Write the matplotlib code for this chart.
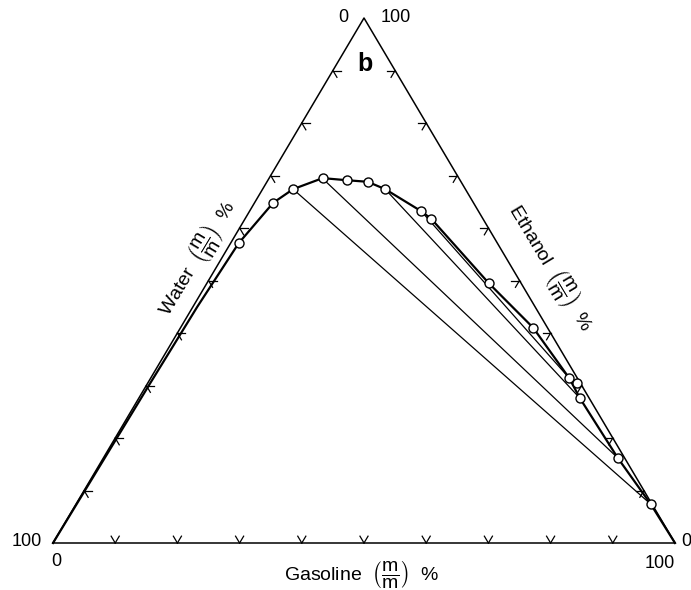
import numpy as np
import matplotlib.pyplot as plt

# =========================
# DATA (mass %, gasoline / ethanol; water = rest)
# =========================
# binodal curve, water corner -> gasoline corner
curve_gas = [0.0, 0.2, 0.4, 0.7, 1.3, 3.0, 4.9, 8.6, 12.7, 16.2, 19.7, 27.6, 30.0,
             45.3, 56.7, 67.3, 70.9, 82.7, 92.4, 100.0]
curve_eth = [0.0, 15.0, 30.0, 45.0, 57.1, 64.8, 67.4, 69.5, 69.1, 68.8, 67.4, 63.2, 61.7,
             49.5, 41.0, 31.4, 27.6, 16.2, 7.4, 0.0]

# measured points (circles)
pts_gas = [1.3, 3.0, 4.9, 8.6, 12.7, 16.2, 19.7, 27.6, 30.0, 45.3, 56.7, 67.3, 69.0, 70.9, 82.7, 92.4]
pts_eth = [57.1, 64.8, 67.4, 69.5, 69.1, 68.8, 67.4, 63.2, 61.7, 49.5, 41.0, 31.4, 30.5, 27.6, 16.2, 7.4]

# tie lines: (gasoline, ethanol) of both ends
tie_gas_a = [4.9, 9.5, 19.7, 27.6]
tie_eth_a = [67.4, 68.8, 67.4, 63.2]
tie_gas_b = [92.4, 82.7, 70.9, 67.3]
tie_eth_b = [7.4, 16.2, 27.6, 31.4]

tick_vals = [10, 20, 30, 40, 50, 60, 70, 80, 90]


def tern(g, e):
    g = np.asarray(g, dtype=float)
    e = np.asarray(e, dtype=float)
    return g + e / 2.0, e


W, H = 691, 590
fig = plt.figure(figsize=(W / 100, H / 100), dpi=100)
plt.rcParams['font.family'] = ['Liberation Sans', 'DejaVu Sans']
plt.rcParams['mathtext.fontset'] = 'custom'
plt.rcParams['mathtext.rm'] = 'Liberation Sans'

# triangle: x 53..675 px, y 543..18 px
ax = fig.add_axes([53 / W, (H - 543) / H, 622 / W, 525 / H])
ax.set_xlim(0, 100)
ax.set_ylim(0, 100)
ax.axis("off")

# frame
fx, fy = tern([0, 100, 0, 0], [0, 0, 100, 0])
ax.plot(fx, fy, color="black", lw=1.1, clip_on=False)

# chevron ticks, arms pointing inside
L = 1.3
for t in tick_vals:
    # bottom (gasoline), e = 0
    g, e = t, 0
    for dg, de in [(0, L), (-L, L)]:
        x, y = tern([g, g + dg], [e, e + de])
        ax.plot(x, y, color="black", lw=0.9, clip_on=False)
    # left (water side), g = 0
    g, e = 0, t
    for dg, de in [(L, 0), (L, -L)]:
        x, y = tern([g, g + dg], [e, e + de])
        ax.plot(x, y, color="black", lw=0.9, clip_on=False)
    # right (ethanol side), water = 0
    g, e = 100 - t, t
    for dg, de in [(-L, 0), (0, -L)]:
        x, y = tern([g, g + dg], [e, e + de])
        ax.plot(x, y, color="black", lw=0.9, clip_on=False)

# tie lines
for ga, ea, gb, eb in zip(tie_gas_a, tie_eth_a, tie_gas_b, tie_eth_b):
    x, y = tern([ga, gb], [ea, eb])
    ax.plot(x, y, color="black", lw=0.9)

# binodal
cx, cy = tern(curve_gas, curve_eth)
ax.plot(cx, cy, color="black", lw=1.6, clip_on=False)

px, py = tern(pts_gas, pts_eth)
ax.plot(px, py, "o", ms=6.5, mfc="white", mec="black", mew=1.0, ls="none", clip_on=False, zorder=5)


def ftext(x, y, s, **kw):
    fig.text(x / W, 1 - y / H, s, ha="center", va="center", **kw)


fs = 14
frac = r"$\left(\dfrac{\mathrm{m}}{\mathrm{m}}\right)$"
ftext(343, 18, "0", fontsize=13)
ftext(396, 18, "100", fontsize=13)
ftext(27, 541, "100", fontsize=13)
ftext(56, 561, "0", fontsize=13)
ftext(686, 541, "0", fontsize=13)
ftext(660, 563, "100", fontsize=13)
ftext(365, 64, "b", fontsize=18, fontweight="bold")

ftext(362, 575, "Gasoline  " + frac + "  %", fontsize=fs)
ftext(197, 258, "Water  " + frac + "  %", fontsize=fs, rotation=59)
ftext(550, 268, "Ethanol  " + frac + "  %", fontsize=fs, rotation=-59)

fig.savefig("out.png", dpi=100)
